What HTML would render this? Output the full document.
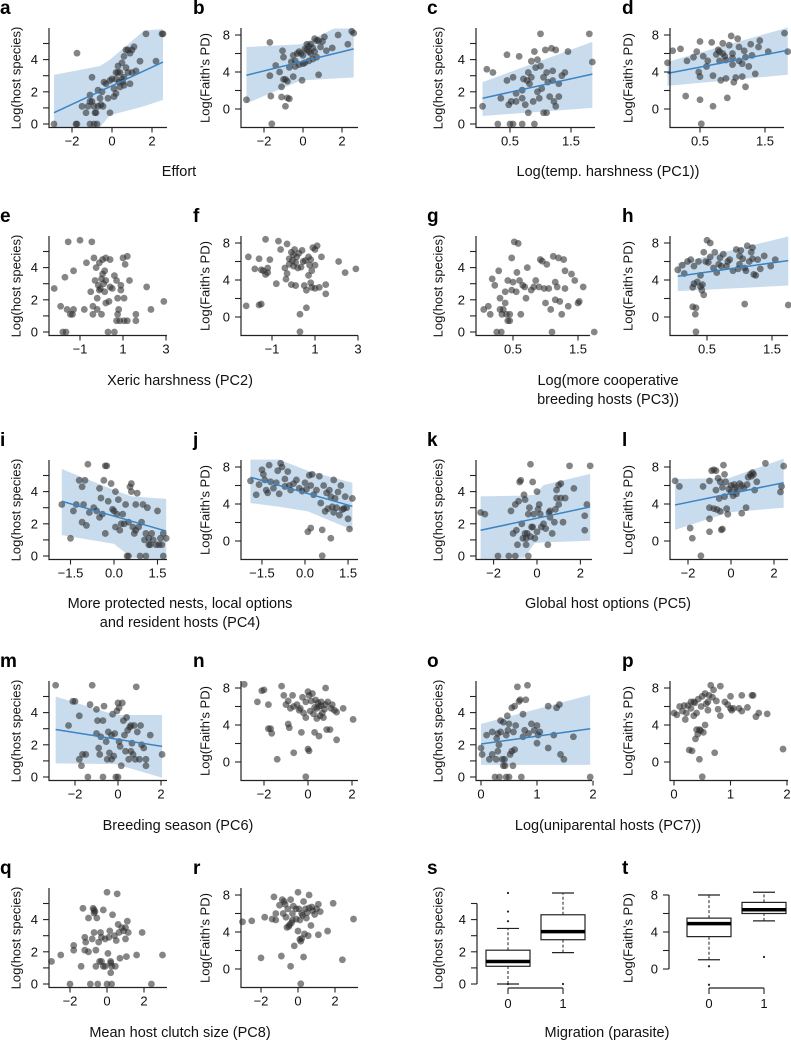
<!DOCTYPE html>
<html><head><meta charset="utf-8"><style>
html,body{margin:0;padding:0;background:#fff;}
svg{display:block;font-family:"Liberation Sans",Arial,sans-serif;}
</style></head><body>
<svg id="fig" width="791" height="1040" viewBox="0 0 791 1040" xmlns="http://www.w3.org/2000/svg"></svg>
<script>
// ---------- data ----------
const aPoints=[[-2.9,0],[-1.75,4.4],[-1.75,0],[-1.8,0],[-1.5,1.1],[-1.3,0.7],[-1.2,1.1],[-1.1,1.8],[-1.1,1.4],[-1.0,2.9],[-1.0,1.4],[-1.1,0],[-0.9,0],[-0.9,1.1],[-0.85,0.7],[-0.8,0.7],[-0.75,0],[-0.7,2.1],[-0.7,1.1],[-0.6,1.6],[-0.55,1.2],[-0.5,2.0],[-0.45,1.1],[-0.4,2.6],[-0.3,2.5],[-0.2,1.6],[-0.1,0.7],[-0.1,2.7],[0,2.8],[0.1,2.2],[0.1,1.7],[0.2,2.8],[0.2,3.2],[0.3,3.2],[0.3,3.6],[0.35,2.6],[0.4,3.2],[0.4,2.3],[0.5,2.8],[0.5,3.8],[0.55,2.6],[0.6,2.4],[0.6,4.2],[0.7,3.5],[0.7,4.6],[0.8,4.6],[0.8,3.2],[0.9,4.4],[0.9,2.5],[1.0,3.2],[1.0,4.6],[1.1,4.8],[1.2,3.3],[1.4,3.9],[1.7,5.6],[2.2,3.9],[2.5,5.6],[2.55,5.6],[0.2,1.9],[0.6,2.9]];
const aLine=[[-2.9,0.7],[2.55,3.85]];
const aBandX=[-2.9,-0.6,-0.1,1.6,2.55], aBandHi=[3.05,3.6,4.0,5.8,5.9], aBandLo=[-0.2,-0.2,0.55,1.1,1.5];

const bPoints=[[-2.9,1.0],[-1.7,7.2],[-1.7,3.6],[-1.65,1.4],[-1.6,-1.6],[-1.4,4.7],[-1.2,4.0],[-1.1,2.4],[-1.05,6.3],[-1,5.6],[-1,3.2],[-0.9,0.3],[-0.9,3.2],[-0.8,1.2],[-0.7,1.1],[-1.1,1.3],[-0.8,3.0],[-0.7,4.5],[-0.6,5.1],[-0.5,5.8],[-0.5,3.5],[-0.4,5.2],[-0.3,6.0],[-0.2,6.2],[-0.2,4.8],[-0.1,6.0],[-0.05,3.1],[0,5.8],[0.1,6.5],[0.1,5.0],[0.2,7.0],[0.2,6.4],[0.3,6.8],[0.3,5.2],[0.4,7.0],[0.4,6.0],[0.5,6.6],[0.5,5.4],[0.6,7.6],[0.6,6.2],[0.7,7.4],[0.7,5.6],[0.8,7.4],[0.8,3.7],[0.9,6.7],[1.0,7.3],[1.1,7.8],[1.2,6.3],[1.5,6.6],[1.8,8.0],[2.3,7.0],[2.5,8.4],[2.6,8.2],[0.0,4.9],[0.3,6.2],[-0.4,4.6]];
const bLine=[[-2.9,3.65],[2.6,6.5]];
const bBandX=[-2.9,-0.1,1.6,2.6], bBandHi=[6.7,7.0,8.7,8.7], bBandLo=[0.6,3.1,3.3,3.4];

const cPoints=[[0.05,1.1],[0.12,3.4],[0.22,3.2],[0.3,0],[0.35,1.6],[0.45,4.3],[0.45,2.7],[0.48,1.2],[0.5,0],[0.52,1.4],[0.55,2.9],[0.55,0],[0.6,1.9],[0.6,1.4],[0.65,4.2],[0.7,0],[0.7,2.1],[0.72,2.8],[0.75,1.2],[0.78,2.7],[0.8,0.7],[0.8,3.2],[0.82,2.5],[0.85,2.9],[0.88,1.4],[0.9,4.5],[0.9,0],[0.92,3.5],[0.95,2.0],[0.95,4.0],[0.98,1.6],[1.0,5.6],[1.0,3.6],[1.02,2.2],[1.05,0.7],[1.08,4.6],[1.1,0.7],[1.1,3.2],[1.12,2.6],[1.15,1.7],[1.18,4.7],[1.2,2.7],[1.22,1.4],[1.25,4.6],[1.25,1.1],[1.3,2.5],[1.3,1.7],[1.35,3.0],[1.4,3.2],[1.45,4.5],[1.8,5.6],[1.85,3.85],[0.85,3.9],[1.05,2.9],[0.7,1.6],[1.2,3.3]];
const cLine=[[0.05,1.6],[1.85,3.1]];
const cBandX=[0.05,1.85], cBandHi=[2.6,5.1], cBandLo=[0.5,1.0];

const dPoints=[[0,5.0],[0.08,6.3],[0.2,6.5],[0.28,1.4],[0.3,5.2],[0.4,5.6],[0.45,6.2],[0.48,4.0],[0.5,3.5],[0.5,7.3],[0.5,1.0],[0.52,-1.6],[0.55,5.7],[0.6,4.6],[0.62,5.2],[0.68,7.2],[0.7,3.6],[0.7,0.3],[0.75,5.9],[0.78,6.4],[0.8,5.2],[0.82,3.1],[0.85,7.1],[0.85,6.0],[0.88,5.7],[0.9,5.3],[0.9,3.3],[0.92,1.2],[0.95,6.9],[0.98,7.9],[1.0,6.0],[1.0,4.8],[1.02,2.9],[1.05,3.4],[1.08,7.6],[1.1,5.2],[1.1,6.7],[1.15,3.5],[1.18,6.3],[1.2,5.6],[1.2,2.4],[1.25,4.6],[1.28,7.0],[1.3,5.8],[1.35,3.8],[1.4,6.7],[1.42,7.4],[1.55,6.2],[1.8,8.2],[1.85,6.2],[0.8,6.2],[1.0,5.5],[1.15,4.9]];
const dLine=[[0,3.85],[1.85,6.35]];
const dBandX=[0,1.85], dBandHi=[5.1,8.8], dBandLo=[2.5,3.7];

const ePoints=[[-2.2,2.7],[-1.9,1.6],[-1.8,0],[-1.7,3.4],[-1.65,0],[-1.6,1.4],[-1.55,5.6],[-1.45,1.1],[-1.35,1.1],[-1.3,3.8],[-1.3,1.4],[-1.0,5.7],[-0.8,1.4],[-0.7,4.3],[-0.5,2.5],[-0.45,5.6],[-0.4,1.6],[-0.4,1.1],[-0.35,4.6],[-0.3,3.2],[-0.25,4.0],[-0.2,2.1],[-0.2,1.4],[-0.15,2.9],[-0.1,4.3],[-0.05,2.7],[0,3.3],[0,1.1],[0.05,4.5],[0.05,3.6],[0.1,3.0],[0.15,3.8],[0.15,2.5],[0.2,1.8],[0.2,4.6],[0.3,0],[0.35,1.9],[0.4,4.5],[0.4,2.8],[0.5,2.7],[0.6,3.5],[0.6,0],[0.7,3.2],[0.7,0.7],[0.75,2.1],[0.75,1.1],[0.8,1.4],[0.85,0.7],[0.9,2.9],[0.9,2.6],[1.0,4.6],[1.05,2.1],[1.05,0.7],[1.1,4.2],[1.2,0.7],[1.2,4.7],[1.3,3.2],[1.6,1.1],[1.6,0.7],[2.1,2.8],[2.3,1.4],[2.9,1.9],[0.2,3.2],[-0.1,2.6]];
const fPoints=[[-2.2,1.2],[-2.1,6.5],[-1.8,5.2],[-1.6,1.3],[-1.6,6.3],[-1.5,1.4],[-1.5,5.1],[-1.4,5.0],[-1.3,8.4],[-1.3,4.6],[-1.2,4.8],[-1.2,5.3],[-1.1,6.2],[-0.8,3.6],[-0.7,8.2],[-0.6,7.3],[-0.4,5.3],[-0.35,4.1],[-0.3,7.9],[-0.3,4.7],[-0.2,6.3],[-0.2,5.7],[-0.1,3.5],[-0.1,7.0],[-0.05,6.1],[0,5.5],[0,6.7],[0.05,7.3],[0.1,5.9],[0.1,3.4],[0.15,6.5],[0.2,5.3],[0.25,6.9],[0.3,0.3],[0.3,-1.6],[0.35,5.4],[0.4,7.2],[0.45,6.0],[0.5,3.4],[0.55,6.1],[0.6,1.0],[0.6,2.9],[0.7,6.5],[0.7,4.5],[0.75,5.6],[0.8,3.7],[0.8,6.2],[0.85,3.2],[0.85,5.0],[0.9,7.5],[1.0,5.6],[1.0,7.3],[1.0,3.1],[1.1,7.7],[1.2,3.2],[1.3,6.5],[1.5,3.5],[1.5,2.5],[2.1,6.0],[2.4,4.8],[2.9,5.2]];
const gPoints=[[0.05,1.4],[0.12,1.6],[0.15,1.1],[0.18,3.3],[0.22,2.9],[0.25,0],[0.28,3.8],[0.3,2.1],[0.3,1.4],[0.32,0],[0.33,1.1],[0.35,1.4],[0.38,1.8],[0.38,2.5],[0.4,1.1],[0.42,0.7],[0.42,3.2],[0.45,0.7],[0.45,1.1],[0.48,2.6],[0.48,4.6],[0.5,3.1],[0.52,5.6],[0.55,2.5],[0.56,3.7],[0.58,5.5],[0.6,3.2],[0.62,1.1],[0.65,2.9],[0.68,2.8],[0.7,2.1],[0.72,4.0],[0.78,2.6],[0.82,2.8],[0.85,3.2],[0.9,2.8],[0.92,4.5],[0.95,4.4],[0.98,2.7],[1.0,1.8],[1.02,4.2],[1.05,2.7],[1.08,1.4],[1.1,0],[1.12,4.7],[1.15,3.1],[1.15,2.0],[1.2,4.6],[1.22,1.9],[1.25,1.1],[1.28,4.5],[1.3,2.7],[1.3,3.8],[1.35,1.6],[1.4,3.6],[1.45,3.2],[1.5,1.8],[1.52,1.9],[1.58,2.8],[1.75,0],[1.18,2.8]];
const hPoints=[[0.05,5.1],[0.12,5.6],[0.15,4.7],[0.2,6.0],[0.25,6.2],[0.28,3.2],[0.28,1.1],[0.3,5.5],[0.3,3.6],[0.32,0.3],[0.33,-1.6],[0.33,1.0],[0.35,3.8],[0.37,6.0],[0.4,3.3],[0.4,4.5],[0.42,2.9],[0.43,3.5],[0.45,2.4],[0.45,7.0],[0.48,6.0],[0.5,8.3],[0.52,5.9],[0.55,8.0],[0.55,6.5],[0.6,5.3],[0.62,7.0],[0.65,4.8],[0.68,5.7],[0.7,6.4],[0.72,5.5],[0.75,6.8],[0.8,5.5],[0.82,6.0],[0.85,6.2],[0.9,5.0],[0.95,7.3],[0.98,5.2],[1.0,5.7],[1.02,7.2],[1.05,6.3],[1.08,1.4],[1.08,5.3],[1.1,5.0],[1.12,7.7],[1.15,6.0],[1.18,7.0],[1.2,6.3],[1.22,4.6],[1.25,4.5],[1.28,6.2],[1.32,5.2],[1.38,6.6],[1.48,5.5],[1.55,6.2],[1.75,1.3],[1.0,6.6],[1.2,7.5]];
const hLine=[[0.05,4.4],[1.75,6.1]];
const hBandX=[0.05,1.75], hBandHi=[5.8,8.7], hBandLo=[2.8,3.4];

const iPoints=[[-1.8,3.2],[-1.5,1.1],[-1.4,2.8],[-1.3,3.2],[-1.2,4.7],[-1.1,4.3],[-1.1,2.1],[-1.05,3.2],[-1.0,4.7],[-0.95,1.9],[-0.9,5.7],[-0.85,2.7],[-0.7,3.0],[-0.6,2.8],[-0.5,4.2],[-0.5,2.4],[-0.45,3.6],[-0.4,2.6],[-0.35,4.7],[-0.3,1.4],[-0.3,5.6],[-0.25,5.6],[-0.2,3.4],[-0.1,4.5],[-0.05,2.9],[0,2.8],[0.05,4.0],[0.05,1.8],[0.1,2.6],[0.15,3.5],[0.2,1.6],[0.3,2.6],[0.35,2.0],[0.4,3.2],[0.45,0],[0.5,2.1],[0.5,0],[0.55,4.3],[0.6,4.5],[0.6,4.0],[0.65,1.8],[0.7,1.4],[0.75,3.2],[0.75,1.6],[0.8,3.9],[0.85,1.8],[0.9,0],[0.95,2.1],[1.0,3.2],[1.05,1.0],[1.1,1.4],[1.1,0],[1.15,3.0],[1.2,1.1],[1.25,0.7],[1.3,1.4],[1.35,1.0],[1.45,0.7],[1.5,2.8],[1.55,0.7],[1.6,1.1],[1.65,0.7],[1.7,1.4],[1.7,0],[1.8,1.1],[0.25,2.0],[1.2,0.7]];
const iLine=[[-1.8,3.4],[1.8,1.55]];
const iBandX=[-1.8,0,0.6,1.8], iBandHi=[5.4,4.1,3.7,3.55], iBandLo=[1.3,0.75,-0.1,-0.25];

const jPoints=[[-1.9,6.5],[-1.7,5.0],[-1.6,6.1],[-1.5,7.7],[-1.45,7.2],[-1.4,6.6],[-1.35,5.5],[-1.3,5.2],[-1.25,8.2],[-1.2,6.4],[-1.1,5.7],[-1.0,6.3],[-0.95,7.6],[-0.9,5.1],[-0.85,8.4],[-0.8,8.0],[-0.7,6.7],[-0.7,5.9],[-0.6,7.5],[-0.55,6.0],[-0.5,5.5],[-0.4,6.2],[-0.3,6.6],[-0.2,5.7],[-0.1,5.4],[0,6.3],[0.05,5.6],[0.1,1.0],[0.15,7.1],[0.2,6.0],[0.2,1.4],[0.25,7.2],[0.3,5.0],[0.4,5.5],[0.5,7.0],[0.55,4.1],[0.6,1.2],[0.6,-1.6],[0.65,6.0],[0.7,3.2],[0.75,5.2],[0.8,3.5],[0.85,5.5],[0.9,0.3],[0.9,4.8],[0.95,3.7],[1.0,6.6],[1.0,3.1],[1.05,4.6],[1.1,3.6],[1.2,2.8],[1.25,6.0],[1.3,3.4],[1.35,3.5],[1.4,4.8],[1.45,3.6],[1.5,2.4],[1.55,1.3],[1.65,4.6],[1.15,5.3]];
const jLine=[[-1.9,6.9],[1.65,3.75]];
const jBandX=[-1.9,-0.9,0.1,1.65], jBandHi=[8.8,8.8,7.6,6.3], jBandLo=[4.1,3.7,3.2,1.2];

const kPoints=[[-2.6,2.7],[-2.4,2.6],[-1.8,0],[-1.3,0],[-1.2,2.8],[-1.1,1.4],[-1.0,3.2],[-1.0,0],[-0.95,1.6],[-0.9,0.7],[-0.85,3.4],[-0.8,4.6],[-0.75,4.7],[-0.7,2.0],[-0.65,1.1],[-0.6,3.8],[-0.55,3.5],[-0.55,1.4],[-0.5,0.7],[-0.5,1.1],[-0.45,1.4],[-0.4,0],[-0.4,2.6],[-0.35,3.0],[-0.3,1.2],[-0.3,5.7],[-0.25,1.8],[-0.2,4.6],[-0.2,1.8],[-0.15,2.6],[-0.1,1.1],[0,1.5],[0,4.0],[0.05,2.9],[0.1,3.2],[0.15,2.6],[0.2,1.8],[0.3,2.0],[0.4,1.7],[0.5,0.7],[0.6,2.8],[0.6,2.4],[0.7,1.4],[0.8,2.1],[0.85,2.9],[0.9,4.1],[0.9,3.6],[1.0,3.2],[1.0,4.4],[1.1,4.5],[1.1,3.6],[1.2,2.1],[1.3,3.6],[1.5,5.6],[1.7,4.2],[2.2,2.5],[2.2,1.6],[2.3,3.2],[2.45,5.6],[0.55,2.7]];
const kLine=[[-2.6,1.6],[2.45,3.05]];
const kBandX=[-2.6,-0.6,-0.1,0.3,2.45], kBandHi=[3.7,3.75,3.8,4.4,5.1], kBandLo=[-0.2,-0.1,0.8,0.85,0.95];

const lPoints=[[-2.6,6.5],[-2.4,5.9],[-1.9,1.4],[-1.8,0.3],[-1.4,-1.6],[-1.3,5.9],[-1.0,6.5],[-1.0,3.6],[-1.0,2.4],[-1.0,1.0],[-0.9,7.6],[-0.8,7.7],[-0.8,3.5],[-0.7,7.6],[-0.7,5.5],[-0.65,3.4],[-0.6,6.8],[-0.55,4.6],[-0.5,6.4],[-0.5,3.2],[-0.45,1.2],[-0.4,1.3],[-0.4,5.8],[-0.35,8.2],[-0.3,7.2],[-0.3,4.8],[-0.25,6.4],[-0.2,3.5],[-0.15,2.9],[-0.1,5.6],[0,5.3],[0,6.0],[0.1,4.9],[0.15,6.1],[0.2,5.8],[0.3,5.5],[0.4,6.2],[0.5,3.0],[0.5,6.0],[0.6,5.7],[0.7,3.6],[0.75,6.1],[0.8,6.9],[0.9,7.2],[0.95,7.0],[1.0,7.4],[1.05,7.2],[1.1,5.5],[1.2,6.4],[1.6,8.4],[2.3,5.3],[2.35,5.9],[2.45,8.1],[0.25,5.1]];
const lLine=[[-2.6,3.9],[2.45,6.3]];
const lBandX=[-2.6,-0.1,2.45], lBandHi=[6.7,6.8,8.9], lBandLo=[1.2,3.1,3.6];

const mPoints=[[-2.9,5.7],[-2.3,3.2],[-2.1,4.7],[-2.0,4.7],[-1.8,3.8],[-1.8,1.1],[-1.7,0.7],[-1.65,1.4],[-1.5,1.4],[-1.4,0],[-1.3,4.5],[-1.2,5.7],[-1.0,4.2],[-1.0,2.7],[-0.95,3.5],[-0.9,1.8],[-0.85,1.4],[-0.8,2.5],[-0.7,3.5],[-0.7,0],[-0.65,4.4],[-0.55,2.2],[-0.5,1.1],[-0.45,2.8],[-0.4,1.5],[-0.3,2.6],[-0.3,1.1],[-0.25,3.9],[-0.2,1.3],[-0.15,2.7],[-0.1,0],[-0.05,4.1],[0,4.6],[0,0],[0.05,4.3],[0.05,2.2],[0.1,1.9],[0.15,0.7],[0.2,4.6],[0.25,3.5],[0.3,2.6],[0.35,1.6],[0.4,3.7],[0.45,2.9],[0.5,1.1],[0.55,3.1],[0.6,3.2],[0.65,2.1],[0.7,1.4],[0.75,3.2],[0.8,1.1],[0.85,5.6],[0.9,2.8],[1.0,1.1],[1.05,3.2],[1.1,2.0],[1.2,1.8],[1.3,0.7],[1.3,1.1],[1.5,2.6],[2.05,1.4],[0.6,1.6]];
const mLine=[[-2.9,2.95],[2.05,1.9]];
const mBandX=[-2.9,-0.1,2.05], mBandHi=[5.0,3.85,3.85], mBandLo=[0.85,0.8,-0.05];

const nPoints=[[-2.9,8.4],[-2.3,6.5],[-2.1,7.7],[-2.0,7.8],[-1.8,6.2],[-1.8,3.6],[-1.7,3.6],[-1.65,3.1],[-1.4,0.3],[-1.2,8.2],[-1.1,7.2],[-1.0,6.2],[-0.9,6.6],[-0.9,4.1],[-0.85,3.7],[-0.8,5.8],[-0.7,7.2],[-0.65,6.0],[-0.65,1.0],[-0.5,6.2],[-0.4,5.6],[-0.35,5.8],[-0.3,3.2],[-0.25,7.0],[-0.2,5.3],[-0.1,6.5],[-0.1,4.8],[-0.1,-1.6],[0,7.6],[0,1.4],[0.05,1.2],[0.05,7.2],[0.1,5.5],[0.15,6.6],[0.2,7.4],[0.25,5.2],[0.3,3.2],[0.35,6.7],[0.4,5.8],[0.4,4.7],[0.45,6.4],[0.5,6.0],[0.5,2.8],[0.55,5.0],[0.6,6.5],[0.65,5.3],[0.7,4.8],[0.75,5.7],[0.8,8.0],[0.8,6.2],[0.85,3.5],[0.9,6.5],[1.0,3.5],[1.05,5.8],[1.1,6.2],[1.2,5.6],[1.3,2.4],[1.3,5.4],[1.6,5.8],[2.05,4.6],[0.6,6.1],[0.3,5.9]];

const oPoints=[[0.0,1.8],[0.02,1.4],[0.1,2.6],[0.15,1.1],[0.2,2.8],[0.2,1.4],[0.25,0],[0.27,1.1],[0.28,2.4],[0.3,1.6],[0.32,2.0],[0.33,0],[0.35,3.5],[0.35,2.8],[0.38,1.1],[0.4,3.4],[0.4,0.7],[0.42,1.1],[0.43,0.7],[0.45,2.6],[0.45,0],[0.47,3.8],[0.48,2.9],[0.5,3.3],[0.5,0],[0.52,1.4],[0.55,4.3],[0.55,1.6],[0.57,0.7],[0.58,2.8],[0.6,4.4],[0.6,1.7],[0.62,3.2],[0.65,5.6],[0.68,4.7],[0.7,4.8],[0.72,0],[0.75,3.9],[0.8,4.8],[0.83,5.7],[0.78,2.9],[0.85,2.7],[0.9,3.3],[0.95,2.9],[1.0,3.2],[1.0,2.1],[1.02,2.6],[1.05,2.8],[1.2,4.4],[1.2,1.8],[1.3,2.6],[1.35,4.3],[1.4,4.5],[1.42,1.4],[1.48,1.1],[1.65,2.5],[1.95,0],[0.75,2.5],[0.3,2.7]];
const oLine=[[0,2.05],[1.95,3.0]];
const oBandX=[0,1.95], oBandHi=[3.3,5.1], oBandLo=[0.75,0.75];

const pPoints=[[0,5.3],[0.05,5.1],[0.1,6.0],[0.15,5.5],[0.18,6.1],[0.2,4.6],[0.22,5.3],[0.25,6.1],[0.27,1.3],[0.3,5.8],[0.32,1.2],[0.35,6.5],[0.35,5.0],[0.37,6.4],[0.38,2.5],[0.4,3.5],[0.4,5.3],[0.42,3.0],[0.43,6.8],[0.45,3.5],[0.45,0.3],[0.47,3.4],[0.48,6.0],[0.5,7.1],[0.5,-1.6],[0.52,3.2],[0.55,7.4],[0.55,4.0],[0.57,6.3],[0.6,5.6],[0.62,7.2],[0.65,8.3],[0.68,7.0],[0.7,7.8],[0.72,1.0],[0.75,6.6],[0.78,5.7],[0.82,8.2],[0.82,5.0],[0.9,6.5],[0.95,6.2],[1.0,7.1],[1.0,5.8],[1.02,5.6],[1.05,5.8],[1.15,5.8],[1.2,7.2],[1.2,5.5],[1.3,5.9],[1.38,7.2],[1.4,7.2],[1.45,4.9],[1.5,5.3],[1.65,5.2],[1.93,1.4],[0.6,6.5],[0.3,6.5]];

const qPoints=[[-3.0,1.4],[-2.5,1.8],[-2.0,0],[-1.8,2.4],[-1.8,2.1],[-1.4,1.1],[-1.3,4.7],[-1.2,2.9],[-1.2,2.1],[-1.15,2.6],[-1.0,2.0],[-1.0,4.1],[-0.9,0],[-0.8,2.8],[-0.75,4.7],[-0.7,3.2],[-0.7,4.6],[-0.65,4.5],[-0.6,2.1],[-0.6,1.1],[-0.55,4.1],[-0.5,0],[-0.45,2.6],[-0.4,1.4],[-0.35,3.2],[-0.3,1.4],[-0.3,2.9],[-0.2,4.6],[-0.2,1.1],[-0.1,1.1],[-0.1,2.8],[0,5.7],[0,0],[0.05,1.9],[0.1,2.9],[0.15,3.3],[0.2,1.4],[0.2,0.7],[0.25,1.1],[0.25,0],[0.3,4.3],[0.4,3.0],[0.45,1.1],[0.5,2.7],[0.55,5.6],[0.6,3.7],[0.65,3.2],[0.7,1.6],[0.8,3.5],[0.9,3.3],[1.0,2.8],[1.0,3.5],[1.05,1.7],[1.1,3.9],[1.15,3.2],[1.6,1.8],[1.9,3.2],[2.4,0],[3.0,1.8],[0.2,1.3],[-0.7,4.4]];
const rPoints=[[-3.0,5.1],[-2.5,5.2],[-2.0,1.2],[-1.8,5.6],[-1.4,5.4],[-1.3,7.8],[-1.2,6.0],[-1.2,5.3],[-1.0,6.9],[-0.9,1.4],[-0.85,7.5],[-0.8,6.0],[-0.75,7.3],[-0.7,7.0],[-0.65,5.6],[-0.6,4.5],[-0.55,6.5],[-0.5,4.6],[-0.45,4.8],[-0.4,0.3],[-0.4,7.5],[-0.35,5.0],[-0.3,6.0],[-0.25,6.8],[-0.2,2.5],[-0.1,6.5],[-0.1,5.4],[0,8.3],[0,4.1],[0.05,6.5],[0.1,3.2],[0.1,5.3],[0.15,-1.6],[0.15,3.0],[0.2,6.0],[0.25,5.8],[0.3,1.3],[0.3,7.3],[0.35,3.8],[0.4,6.5],[0.45,5.5],[0.5,6.1],[0.55,3.6],[0.6,8.0],[0.6,6.6],[0.7,4.7],[0.75,6.7],[0.8,6.3],[0.9,5.9],[1.0,6.5],[1.1,7.0],[1.1,3.7],[1.2,6.2],[1.6,4.1],[1.9,7.1],[2.4,1.0],[3.0,5.4],[0.2,3.3],[-0.3,5.3]];

// boxplots: [whiskerLo, q1, median, q3, whiskerHi]
const sCategories=["0","1"];
const sStats=[[0,1.1,1.4,2.1,3.45],[1.95,2.75,3.25,4.3,5.65]];
const sOutliers=[[3.9,4.5,5.65,0],[0]];
const tCategories=["0","1"];
const tStats=[[1.0,3.5,4.9,5.5,8.0],[5.2,6.0,6.4,7.2,8.3]];
const tOutliers=[[0.3,-1.7],[1.3]];

const hostTicks=[0,1,2,3,4,5], hostLabels=["0","","2","","4",""];
const pdTicks=[0,2,4,6,8], pdLabels=["0","","4","","8"];

// ---------- drawing ----------
const NS="http://www.w3.org/2000/svg";
const svg=document.getElementById('fig');
function el(tag,attrs,parent){const e=document.createElementNS(NS,tag);for(const k in attrs)e.setAttribute(k,attrs[k]);(parent||svg).appendChild(e);return e;}
function txt(s,x,y,attrs,parent){const t=el('text',Object.assign({x:x,y:y,'font-size':13,fill:'#111'},attrs),parent);t.textContent=s;return t;}

const rowsHost0=[124,332,556,777,984];
const colAxis=[49,241,476,670];
const colLetterX=[0,193,427,622];
const colYTitleX=[16,205,438,628];

function panel(o){
  const g=el('g',{});
  
  
  const h0=rowsHost0[o.row], ax=colAxis[o.col];
  const isPD=o.type==='pd';
  const y0=isPD? h0-15 : h0;
  const k=isPD?9.25:16.1;
  const sy=v=>y0-v*k;
  const sx=v=>o.xPx0+(v-o.xV0)*o.xK;
  const top=h0-96, bottom=h0+3.5;
  // band
  if(o.bandX){
    let d='';
    o.bandX.forEach((x,i)=>{d+=(i?'L':'M')+sx(x)+','+sy(o.bandHi[i]);});
    for(let i=o.bandX.length-1;i>=0;i--)d+='L'+sx(o.bandX[i])+','+sy(o.bandLo[i]);
    const b=el('path',{d:d+'Z',fill:'#c9dcee'},g);
    
    
  }
  // points
  o.points.forEach(p=>{
    const c=el('circle',{cx:sx(p[0]),cy:sy(p[1]),r:3.4,fill:'rgba(45,45,45,0.58)'},g);
    
    
  });
  if(o.line){
    const l=el('line',{x1:sx(o.line[0][0]),y1:sy(o.line[0][1]),x2:sx(o.line[1][0]),y2:sy(o.line[1][1]),stroke:'#3a84c3','stroke-width':1.5},g);
    
    
  }
  // axes L box
  const axp=el('path',{d:`M${ax},${top}L${ax},${bottom}L${o.right},${bottom}`,fill:'none',stroke:'#222','stroke-width':1.2},g);
  
  
  const yt=isPD?pdTicks:hostTicks, yl=isPD?pdLabels:hostLabels;
  yt.forEach((v,i)=>{
    el('line',{x1:ax-6,x2:ax,y1:sy(v),y2:sy(v),stroke:'#222','stroke-width':1.1},g);
    if(yl[i]){const t=txt(yl[i],ax-11,sy(v)+4.5,{'text-anchor':'end'},g);
      
      }
  });
  o.xticks.forEach((v,i)=>{
    el('line',{x1:sx(v),x2:sx(v),y1:bottom,y2:bottom+5,stroke:'#222','stroke-width':1.1},g);
    const t=txt(o.xlabels[i],sx(v),bottom+18,{'text-anchor':'middle'},g);
    
    
  });
  common(o,g,h0);
}
function common(o,g,h0){
  const yc=h0-46, tx=colYTitleX[o.col];
  const yt=txt(o.type==='pd'?"Log(Faith's PD)":"Log(host species)",tx,yc,{'text-anchor':'middle',transform:`rotate(-90 ${tx} ${yc})`,dy:'0.35em'},g);
  
  
  const L=txt(o.letter,colLetterX[o.col],h0-110,{'font-size':19,'font-weight':'bold',fill:'#000'},g);
  
  
}
function boxpanel(o){
  const g=el('g',{});
  
  
  const h0=rowsHost0[o.row], ax=o.axisX;
  const isPD=o.type==='pd';
  const y0=isPD?h0-15:h0, k=isPD?9.25:16.1;
  const sy=v=>y0-v*k;
  const sx=i=>o.px[i];
  const yt=isPD?pdTicks:hostTicks, yl=isPD?pdLabels:hostLabels;
  el('line',{x1:ax,x2:ax,y1:sy(yt[0]),y2:sy(yt[yt.length-1]),stroke:'#222','stroke-width':1.2},g);
  yt.forEach((v,i)=>{
    el('line',{x1:ax-6,x2:ax,y1:sy(v),y2:sy(v),stroke:'#222','stroke-width':1.1},g);
    if(yl[i]){const t=txt(yl[i],ax-11,sy(v)+4.5,{'text-anchor':'end'},g);
      
      }
  });
  const by=h0+4;
  el('line',{x1:sx(0),x2:sx(1),y1:by,y2:by,stroke:'#222','stroke-width':1.2},g);
  o.cats.forEach((c,i)=>{
    el('line',{x1:sx(i),x2:sx(i),y1:by,y2:by+6,stroke:'#222','stroke-width':1.1},g);
    const t=txt(c,sx(i),by+20,{'text-anchor':'middle'},g);
    
    
    const s=o.stats[i], x=sx(i), w=22;
    const bg=el('g',{},g);
    
    
    el('line',{x1:x,x2:x,y1:sy(s[0]),y2:sy(s[1]),stroke:'#222','stroke-dasharray':'3,2'},bg);
    el('line',{x1:x,x2:x,y1:sy(s[3]),y2:sy(s[4]),stroke:'#222','stroke-dasharray':'3,2'},bg);
    el('line',{x1:x-11,x2:x+11,y1:sy(s[0]),y2:sy(s[0]),stroke:'#222','stroke-width':1.2},bg);
    el('line',{x1:x-11,x2:x+11,y1:sy(s[4]),y2:sy(s[4]),stroke:'#222','stroke-width':1.2},bg);
    el('rect',{x:x-w,y:sy(s[3]),width:2*w,height:sy(s[1])-sy(s[3]),fill:'#fff',stroke:'#222','stroke-width':1.2},bg);
    el('line',{x1:x-w,x2:x+w,y1:sy(s[2]),y2:sy(s[2]),stroke:'#000','stroke-width':3.5},bg);
    o.out[i].forEach(v=>{
      const c2=el('circle',{cx:x,cy:sy(v),r:1.1,fill:'#222'},bg);
      
      
    });
  });
  common(o,g,h0);
}
function title(lines,cx,y){
  lines.forEach((s,i)=>{const t=txt(s,cx,y+i*19,{'text-anchor':'middle','font-size':14.5});
    
    });
}

const T2=[-2,0,2], T2L=["\u22122","0","2"];
panel({letter:'a',row:0,col:0,type:'host',right:167,xV0:0,xPx0:112,xK:20,xticks:T2,xlabels:T2L,points:aPoints,line:aLine,bandX:aBandX,bandHi:aBandHi,bandLo:aBandLo});
panel({letter:'b',row:0,col:1,type:'pd',right:358,xV0:0,xPx0:303,xK:19.5,xticks:T2,xlabels:T2L,points:bPoints,line:bLine,bandX:bBandX,bandHi:bBandHi,bandLo:bBandLo});
panel({letter:'c',row:0,col:2,type:'host',right:595,xV0:0.5,xPx0:510,xK:61,xticks:[0.5,1.5],xlabels:["0.5","1.5"],points:cPoints,line:cLine,bandX:cBandX,bandHi:cBandHi,bandLo:cBandLo});
panel({letter:'d',row:0,col:3,type:'pd',right:784,xV0:0.5,xPx0:700,xK:65,xticks:[0.5,1.5],xlabels:["0.5","1.5"],points:dPoints,line:dLine,bandX:dBandX,bandHi:dBandHi,bandLo:dBandLo});
panel({letter:'e',row:1,col:0,type:'host',right:167,xV0:-1,xPx0:80,xK:21.5,xticks:[-1,1,3],xlabels:["\u22121","1","3"],points:ePoints});
panel({letter:'f',row:1,col:1,type:'pd',right:358,xV0:-1,xPx0:272,xK:21.5,xticks:[-1,1,3],xlabels:["\u22121","1","3"],points:fPoints});
panel({letter:'g',row:1,col:2,type:'host',right:590,xV0:0.5,xPx0:513,xK:65,xticks:[0.5,1.5],xlabels:["0.5","1.5"],points:gPoints});
panel({letter:'h',row:1,col:3,type:'pd',right:788,xV0:0.5,xPx0:707,xK:65,xticks:[0.5,1.5],xlabels:["0.5","1.5"],points:hPoints,line:hLine,bandX:hBandX,bandHi:hBandHi,bandLo:hBandLo});
const T15=[-1.5,0,1.5], T15L=["\u22121.5","0.0","1.5"];
panel({letter:'i',row:2,col:0,type:'host',right:167,xV0:0,xPx0:114,xK:29,xticks:T15,xlabels:T15L,points:iPoints,line:iLine,bandX:iBandX,bandHi:iBandHi,bandLo:iBandLo});
panel({letter:'j',row:2,col:1,type:'pd',right:358,xV0:0,xPx0:305,xK:28.7,xticks:T15,xlabels:T15L,points:jPoints,line:jLine,bandX:jBandX,bandHi:jBandHi,bandLo:jBandLo});
panel({letter:'k',row:2,col:2,type:'host',right:592,xV0:0,xPx0:537,xK:21.7,xticks:T2,xlabels:T2L,points:kPoints,line:kLine,bandX:kBandX,bandHi:kBandHi,bandLo:kBandLo});
panel({letter:'l',row:2,col:3,type:'pd',right:788,xV0:0,xPx0:731,xK:21.5,xticks:T2,xlabels:T2L,points:lPoints,line:lLine,bandX:lBandX,bandHi:lBandHi,bandLo:lBandLo});
panel({letter:'m',row:3,col:0,type:'host',right:167,xV0:0,xPx0:118,xK:21.5,xticks:T2,xlabels:T2L,points:mPoints,line:mLine,bandX:mBandX,bandHi:mBandHi,bandLo:mBandLo});
panel({letter:'n',row:3,col:1,type:'pd',right:358,xV0:0,xPx0:308,xK:22,xticks:T2,xlabels:T2L,points:nPoints});
panel({letter:'o',row:3,col:2,type:'host',right:592,xV0:0,xPx0:481,xK:56,xticks:[0,1,2],xlabels:["0","1","2"],points:oPoints,line:oLine,bandX:oBandX,bandHi:oBandHi,bandLo:oBandLo});
panel({letter:'p',row:3,col:3,type:'pd',right:788,xV0:0,xPx0:674,xK:56.5,xticks:[0,1,2],xlabels:["0","1","2"],points:pPoints});
panel({letter:'q',row:4,col:0,type:'host',right:167,xV0:0,xPx0:107,xK:18.5,xticks:T2,xlabels:T2L,points:qPoints});
panel({letter:'r',row:4,col:1,type:'pd',right:358,xV0:0,xPx0:298,xK:18.5,xticks:T2,xlabels:T2L,points:rPoints});
boxpanel({letter:'s',row:4,col:2,type:'host',axisX:477,px:[508,563],cats:sCategories,stats:sStats,out:sOutliers});
boxpanel({letter:'t',row:4,col:3,type:'pd',axisX:669,px:[709,764],cats:tCategories,stats:tStats,out:tOutliers});

title(["Effort"],179,176);
title(["Log(temp. harshness (PC1))"],608,176);
title(["Xeric harshness (PC2)"],180,385);
title(["Log(more cooperative","breeding hosts (PC3))"],608,385);
title(["More protected nests, local options","and resident hosts (PC4)"],180,608);
title(["Global host options (PC5)"],608,608);
title(["Breeding season (PC6)"],178,830);
title(["Log(uniparental hosts (PC7))"],608,830);
title(["Mean host clutch size (PC8)"],180,1037);
title(["Migration (parasite)"],607,1037);
</script>
</body></html>
